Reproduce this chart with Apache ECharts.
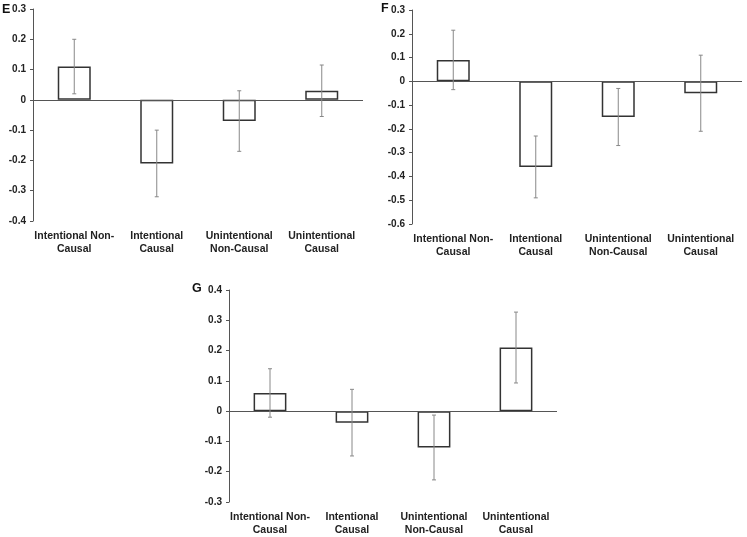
<!DOCTYPE html>
<html><head><meta charset="utf-8">
<script src="https://cdn.jsdelivr.net/npm/echarts@6/dist/echarts.min.js"></script>
<style>html,body{margin:0;padding:0;background:#fff}#c{width:747px;height:537px}</style>
</head><body><div id="c"></div>
<script>
const categories = ['Intentional Non-\nCausal', 'Intentional\nCausal', 'Unintentional\nNon-Causal', 'Unintentional\nCausal'];
const panelLetters = ['E', 'F', 'G'];
const valuesE = [0.11, -0.21, -0.07, 0.03];
const errorsE = [0.09, 0.11, 0.10, 0.085];
const valuesF = [0.09, -0.36, -0.15, -0.05];
const errorsF = [0.125, 0.13, 0.12, 0.16];
const valuesG = [0.06, -0.038, -0.12, 0.21];
const errorsG = [0.08, 0.11, 0.107, 0.117];
const yRangeE = [-0.4, 0.3];
const yRangeF = [-0.6, 0.3];
const yRangeG = [-0.3, 0.4];

const FONT = 'Liberation Sans';
const TXT = '#222';
const panels = [
  {values: valuesE, errors: errorsE, range: yRangeE, grid: {left: 33, top: 9, width: 330, height: 212}, title: {left: 2, top: 3}},
  {values: valuesF, errors: errorsF, range: yRangeF, grid: {left: 412, top: 10, width: 330, height: 214}, title: {left: 381, top: 2}},
  {values: valuesG, errors: errorsG, range: yRangeG, grid: {left: 229, top: 290, width: 328, height: 212}, title: {left: 192, top: 282}}
];

const option = {
  animation: false,
  backgroundColor: '#fff',
  title: panels.map((p, i) => ({text: panelLetters[i], left: p.title.left, top: p.title.top, padding: 0,
    textStyle: {fontFamily: FONT, fontWeight: 'bold', fontSize: 12.5, color: '#111'}})),
  grid: panels.map(p => Object.assign({containLabel: false}, p.grid)),
  xAxis: panels.map((p, i) => ({
    type: 'category', gridIndex: i, data: categories, position: 'bottom',
    axisLine: {show: false}, axisTick: {show: false},
    axisLabel: {fontFamily: FONT, fontWeight: 'bold', fontSize: 10.5, color: TXT, margin: 9, lineHeight: 13, interval: 0}
  })),
  yAxis: panels.map((p, i) => ({
    type: 'value', gridIndex: i, min: p.range[0], max: p.range[1], interval: 0.1,
    splitLine: {show: false},
    axisLine: {show: true, lineStyle: {color: '#555', width: 1}},
    axisTick: {show: true, length: 3, lineStyle: {color: '#555'}},
    axisLabel: {fontFamily: FONT, fontWeight: 'bold', fontSize: 10, color: TXT, margin: 7,
      formatter: v => Math.abs(v) < 1e-9 ? '0' : v.toFixed(1)}
  })),
  series: []
};

panels.forEach((p, i) => {
  option.series.push({
    type: 'bar', xAxisIndex: i, yAxisIndex: i, data: p.values, barWidth: '40%',
    itemStyle: {color: '#fff', borderColor: '#333', borderWidth: 1.5},
    markLine: {silent: true, symbol: ['none', 'none'], label: {show: false},
      lineStyle: {color: '#555', type: 'solid', width: 1}, data: [{yAxis: 0}]}
  });
  option.series.push({
    type: 'custom', xAxisIndex: i, yAxisIndex: i, z: 5,
    data: p.values.map((v, k) => [k, v + p.errors[k], v - p.errors[k]]),
    renderItem: (params, api) => {
      const hi = api.coord([api.value(0), api.value(1)]);
      const lo = api.coord([api.value(0), api.value(2)]);
      const cap = 2;
      const st = {stroke: '#888', lineWidth: 1};
      return {type: 'group', children: [
        {type: 'line', shape: {x1: hi[0], y1: hi[1], x2: lo[0], y2: lo[1]}, style: st},
        {type: 'line', shape: {x1: hi[0] - cap, y1: hi[1], x2: hi[0] + cap, y2: hi[1]}, style: st},
        {type: 'line', shape: {x1: lo[0] - cap, y1: lo[1], x2: lo[0] + cap, y2: lo[1]}, style: st}
      ]};
    }
  });
});

const chart = echarts.init(document.getElementById('c'), null, {renderer: 'canvas'});
chart.setOption(option);
</script></body></html>
